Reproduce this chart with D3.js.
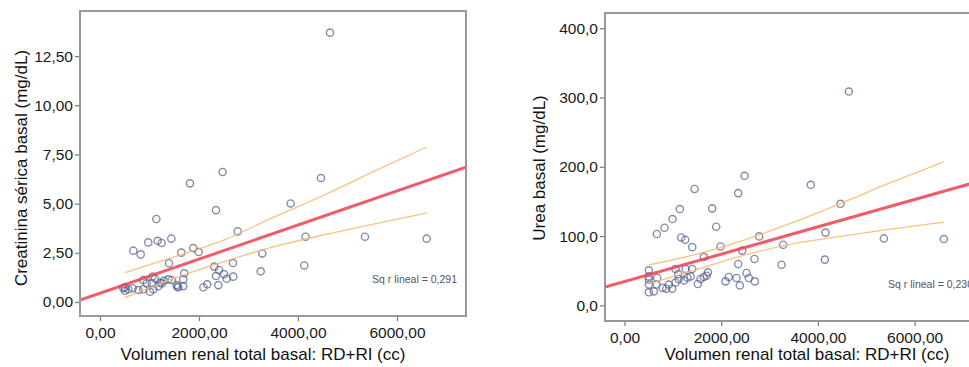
<!DOCTYPE html>
<html>
<head>
<meta charset="utf-8">
<script src="https://cdn.jsdelivr.net/npm/d3@7"></script>
<style>
  body { margin: 0; background: #fff; }
  svg { display: block; }
  text { font-family: "Liberation Sans", Arial, sans-serif; }
</style>
</head>
<body>
<svg id="chart" width="969" height="367"></svg>
<script>
// volumen renal total basal (cc) vs creatinina serica basal (mg/dL)
const volCr = [4646, 2478, 1818, 4464, 3852, 2343, 1138, 2781, 1441, 1165, 1246, 976, 4154, 5353, 6599,
  673, 822, 1885, 1993, 1643, 3279, 1394, 2687, 2309, 4127, 3246, 1703, 2404, 2505, 2343,
  2693, 2559, 2390, 2088, 2168, 1683, 1683, 1562, 1380, 471, 572, 660, 774, 875, 505,
  1010, 1077, 1044, 1111, 943, 875, 1212, 1293, 1448, 1549, 1582, 1060, 1180, 500, 1250]
const creatinina = [13.69, 6.61, 6.03, 6.30, 5.01, 4.67, 4.22, 3.59, 3.22, 3.11, 3.00, 3.03, 3.32, 3.32, 3.22,
  2.61, 2.42, 2.74, 2.54, 2.51, 2.47, 1.97, 1.98, 1.80, 1.86, 1.56, 1.46, 1.63, 1.42, 1.32,
  1.29, 1.18, 0.86, 0.75, 0.90, 1.15, 0.81, 0.78, 1.15, 0.70, 0.65, 0.70, 0.61, 0.65, 0.57,
  0.52, 0.65, 0.95, 1.20, 0.95, 1.12, 0.98, 1.08, 1.12, 0.86, 0.75, 1.30, 0.80, 0.75, 0.95]

// volumen renal total basal (cc) vs urea basal (mg/dL)
const volUr = [4639, 2482, 2351, 1448, 3853, 4467, 1144, 1813, 993, 827, 668, 1896, 1172, 1255, 2785,
  4157, 5363, 6604, 1400, 1985, 3281, 2434, 1640, 2688, 4143, 2351, 3247, 503, 1055, 1262,
  1400, 2523, 1723, 1696, 1365, 1572, 1640, 2157, 2316, 2571, 2089, 2695, 2385, 1516, 986,
  503, 503, 676, 662, 503, 503, 606, 786, 916, 1055, 1120, 1230, 862, 1110, 1300]
const urea = [308.6, 187, 162, 168, 174, 146.6, 139, 140, 124.6, 112, 103, 113.5, 98, 94.7, 99.5,
  105, 96.6, 95.7, 84, 85, 87.5, 79, 70, 67, 66, 59.7, 58.7, 50.5, 52.5, 52.5,
  52.5, 46.7, 47.6, 42.8, 41.8, 38, 41, 41, 39.5, 39.5, 34.6, 34.6, 28.8, 30.8, 24,
  41.8, 37, 39.5, 30, 30, 18.8, 20.2, 25.5, 30, 33, 38, 36, 24, 45, 40]

// fit lines, read at the two ends of the x range
const fitX = [-404, 7394]
const crFit = [0.10, 6.85]
const urFit = [26.5, 180.2]

// confidence band of the mean
const bandX = [500, 1500, 2500, 3500, 4500, 5500, 6600]
const crUpper = [1.50, 2.30, 3.15, 4.30, 5.40, 6.60, 7.88]
const crLower = [0.22, 1.20, 2.05, 2.80, 3.40, 3.95, 4.52]
const urUpper = [58.5, 74, 95, 120, 148, 177, 207]
const urLower = [31, 52, 73, 89, 100, 110, 120]

const xTicks = [0, 2000, 4000, 6000]
const crTicks = [0, 2.5, 5, 7.5, 10, 12.5]
const urTicks = [0, 100, 200, 300, 400]

const esLocale = d3.formatLocale({ decimal: ",", thousands: ".", grouping: [3], currency: ["", " €"] })

const svg = d3.select('#chart')

function panel(o) {
    const g = svg.append('g')

    const x = d3.scaleLinear().domain(fitX).range([o.left, o.right])
    const y = d3.scaleLinear().domain(o.yDomain).range([o.bottom, o.top])

    g.append('clipPath').attr('id', o.id + '-clip')
        .append('rect')
        .attr('x', o.left).attr('y', o.top)
        .attr('width', o.right - o.left).attr('height', o.bottom - o.top)

    g.append('rect')
        .attr('x', o.left).attr('y', o.top)
        .attr('width', o.right - o.left).attr('height', o.bottom - o.top)
        .attr('fill', '#fff')

    // axes
    const yAxis = g.append('g')
        .attr('transform', 'translate(' + o.left + ',0)')
        .call(d3.axisLeft(y).tickValues(o.yTicks).tickSize(5).tickPadding(2)
            .tickFormat(esLocale.format(o.yFormat)))
    const xAxis = g.append('g')
        .attr('transform', 'translate(0,' + o.bottom + ')')
        .call(d3.axisBottom(x).tickValues(xTicks).tickSize(5).tickPadding(6)
            .tickFormat(esLocale.format('.2f')))
    for (const a of [xAxis, yAxis]) {
        a.select('.domain').remove()
        a.selectAll('line').attr('stroke', '#777').attr('stroke-width', 1.2)
        a.selectAll('text').attr('fill', '#1a1a1a').style('font-size', '15.5px')
            .style('font-family', '"Liberation Sans", Arial, sans-serif')
    }

    const inner = g.append('g').attr('clip-path', 'url(#' + o.id + '-clip)')

    // points
    inner.append('g')
        .selectAll('circle')
        .data(o.xs.map((v, i) => [v, o.ys[i]]))
        .join('circle')
        .attr('cx', d => x(d[0]))
        .attr('cy', d => y(d[1]))
        .attr('r', 3.6)
        .attr('fill', 'none')
        .attr('stroke', '#55608f')
        .attr('stroke-opacity', 0.72)
        .attr('stroke-width', 1.4)

    // confidence band
    const band = d3.line().x((d, i) => x(bandX[i])).y(d => y(d)).curve(d3.curveMonotoneX)
    for (const b of [o.upper, o.lower]) {
        inner.append('path')
            .attr('d', band(b))
            .attr('fill', 'none')
            .attr('stroke', '#f7b96a')
            .attr('stroke-opacity', 0.85)
            .attr('stroke-width', 1.3)
    }

    // fit line
    inner.append('line')
        .attr('x1', x(fitX[0])).attr('y1', y(o.fit[0]))
        .attr('x2', x(fitX[1])).attr('y2', y(o.fit[1]))
        .attr('stroke', '#ef3f4f')
        .attr('stroke-opacity', 0.85)
        .attr('stroke-width', 3)

    // frame
    g.append('rect')
        .attr('x', o.left).attr('y', o.top)
        .attr('width', o.right - o.left).attr('height', o.bottom - o.top)
        .attr('fill', 'none')
        .attr('stroke', '#999')
        .attr('stroke-width', 2)

    g.append('text')
        .attr('x', o.right - 9).attr('y', o.bottom - 33)
        .attr('text-anchor', 'end')
        .attr('fill', '#555')
        .style('font-size', '10.5px')
        .text(o.rsq)

    g.append('text')
        .attr('x', o.xTitleX).attr('y', 360)
        .attr('text-anchor', 'middle')
        .attr('fill', '#111')
        .style('font-size', '17px')
        .text('Volumen renal total basal: RD+RI (cc)')

    g.append('text')
        .attr('transform', 'translate(' + o.yTitleX + ',168) rotate(-90)')
        .attr('text-anchor', 'middle')
        .attr('fill', '#111')
        .style('font-size', '17px')
        .text(o.yTitle)
}

panel({
    id: 'cr', left: 80, right: 466, top: 11, bottom: 316,
    yDomain: [-0.71, 14.79], yTicks: crTicks, yFormat: '.2f',
    xs: volCr, ys: creatinina, fit: crFit, upper: crUpper, lower: crLower,
    rsq: 'Sq r lineal = 0,291', xTitleX: 263, yTitleX: 26.5,
    yTitle: 'Creatinina sérica basal (mg/dL)'
})

panel({
    id: 'ur', left: 605, right: 982, top: 13, bottom: 321,
    yDomain: [-22.6, 422], yTicks: urTicks, yFormat: '.1f',
    xs: volUr, ys: urea, fit: urFit, upper: urUpper, lower: urLower,
    rsq: 'Sq r lineal = 0,230', xTitleX: 807, yTitleX: 545,
    yTitle: 'Urea basal (mg/dL)'
})
</script>
</body>
</html>
